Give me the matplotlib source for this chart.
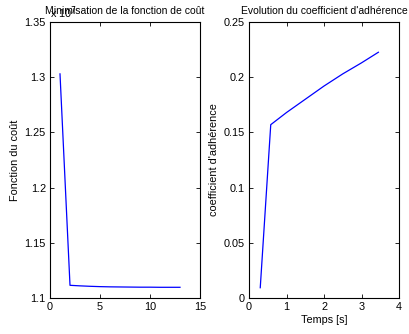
import numpy as np
import matplotlib.pyplot as plt
from matplotlib.ticker import FuncFormatter

plt.rcParams['font.family'] = ['Liberation Sans', 'DejaVu Sans']
plt.rcParams['font.size'] = 7.8

### Data
iterations = [1, 2, 3, 4, 5, 6, 7, 8, 9, 10, 11, 12, 13]
cout = [1.303e7, 1.1115e7, 1.1110e7, 1.1106e7, 1.1103e7, 1.1101e7, 1.1100e7,
        1.1099e7, 1.1098e7, 1.1098e7, 1.1097e7, 1.1097e7, 1.1097e7]

temps = [0.30, 0.58, 1.0, 1.5, 2.0, 2.5, 3.0, 3.45]
adherence = [0.0093, 0.157, 0.168, 0.180, 0.192, 0.203, 0.213, 0.2226]

fig = plt.figure(figsize=(4.09, 3.34), dpi=100)
ax1 = fig.add_axes([50/409, 1-298/334, 150/409, 276/334])
ax2 = fig.add_axes([249/409, 1-298/334, 150/409, 276/334])

### Left: cost function
ax1.plot(iterations, cout, color='#0000ff', lw=0.9)
ax1.set_xlim(0, 15)
ax1.set_ylim(1.1e7, 1.35e7)
ax1.set_xticks([0, 5, 10, 15])
ax1.set_yticks(np.array([1.1, 1.15, 1.2, 1.25, 1.3, 1.35]) * 1e7)
ax1.yaxis.set_major_formatter(FuncFormatter(lambda v, p: '%g' % round(v / 1e7, 4)))
ax1.set_ylabel('Fonction du coût', labelpad=3)
ax1.set_title('Minimisation de la fonction de coût', fontsize=7.5, pad=6)
ax1.text(0.0, 1.003, r'x 10$^7$', transform=ax1.transAxes, fontsize=7.8,
         ha='left', va='bottom')

### Right: adherence coefficient
ax2.plot(temps, adherence, color='#0000ff', lw=0.9)
ax2.set_xlim(0, 4)
ax2.set_ylim(0, 0.25)
ax2.set_xticks([0, 1, 2, 3, 4])
ax2.set_yticks([0, 0.05, 0.1, 0.15, 0.2, 0.25])
ax2.yaxis.set_major_formatter(FuncFormatter(lambda v, p: '%g' % round(v, 4)))
ax2.set_xlabel('Temps [s]', labelpad=2)
ax2.set_ylabel("coefficient d'adhérence", labelpad=3)
ax2.set_title("Evolution du coefficient d'adhérence", fontsize=7.5, pad=6)

for ax in (ax1, ax2):
    ax.tick_params(direction='in', top=True, right=True, length=3, width=0.6, pad=3)
    for s in ax.spines.values():
        s.set_linewidth(0.8)

fig.savefig('out.png', dpi=100)
